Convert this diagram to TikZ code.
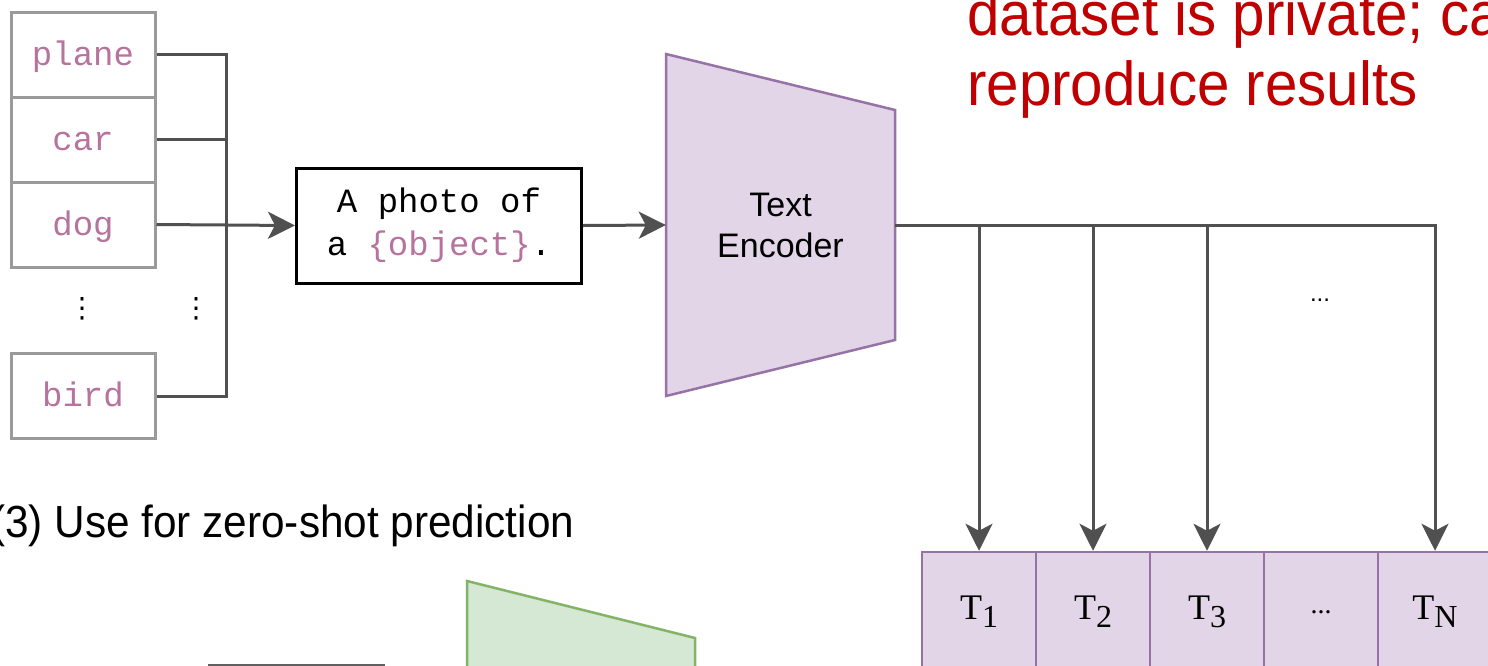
\documentclass[tikz,border=0pt]{standalone}
\usepackage{fontspec}
\setmainfont{Liberation Serif}
\newfontfamily\arialf{Liberation Sans}
\newfontfamily\narrowf[FakeStretch=0.94]{Liberation Sans}
\newfontfamily\monof{Liberation Mono}
\newfontfamily\dejaf{DejaVu Sans}
\usetikzlibrary{arrows.meta,calc}
\definecolor{conngray}{HTML}{505050}
\definecolor{wgray}{HTML}{9A9A9A}
\definecolor{wtext}{HTML}{B5739D}
\definecolor{pfill}{HTML}{E1D5E7}
\definecolor{pdraw}{HTML}{9673A6}
\definecolor{gfill}{HTML}{D5E8D4}
\definecolor{gdraw}{HTML}{82B366}
\definecolor{redtxt}{HTML}{C00000}
\definecolor{boxgray}{HTML}{606060}
\newcommand{\tlab}[1]{T\raisebox{-8pt}{\fontsize{32}{32}\selectfont #1}}
\tikzset{
  wbox/.style={draw=wgray, line width=3pt, minimum width=144pt, minimum height=85pt, inner sep=0pt,
    text=wtext, font=\monof\fontsize{34}{34}\selectfont, text height=21pt, text depth=0pt},
  conn/.style={draw=conngray, line width=3pt},
  arr/.style={-{Stealth[length=27pt,width=27pt,inset=7pt]}},
  tbox/.style={draw=pdraw, fill=pfill, line width=2.5pt, minimum width=114pt, minimum height=120pt,
    inner sep=0pt, font=\fontsize{36}{36}\selectfont},
  encshape/.style={draw=pdraw, fill=pfill, line width=2.5pt, line join=miter},
  greenshape/.style={draw=gdraw, fill=gfill, line width=2.5pt},
  redtext/.style={anchor=base west, inner sep=0pt, text=redtxt, font=\narrowf\fontsize{62}{62}\selectfont},
  vdotsnode/.style={inner sep=0pt, font=\dejaf\fontsize{28}{28}\selectfont},
}
\begin{document}
\begin{tikzpicture}[x=1pt,y=-1pt]
\useasboundingbox (0,0) rectangle (1488,665);
\clip (0,0) rectangle (1488,665);
\fill[white] (0,0) rectangle (1488,665);

% word boxes
\node[wbox] (plane) at (83,54.5) {plane};
\node[wbox] (car) at (83,139.5) {car};
\node[wbox] (dog) at (83,224.5) {dog};
\node[wbox] (bird) at (83,396) {bird};
\node[vdotsnode] (vd1) at (82,309) {⋮};
\node[vdotsnode] (vd2) at (196,309) {⋮};

% prompt
\node[draw=black, line width=3pt, minimum width=285pt, minimum height=115pt, inner sep=0pt,
  align=center, font=\monof\fontsize{34}{43}\selectfont] (prompt) at (439,225.5)
  {A photo of\\a \textcolor{wtext}{\{object\}}.};

% bus
\coordinate (bus) at (226,54);
\draw[conn] (plane.east) -- (plane.east -| bus) -- (bird.east -| bus) -- (bird.east);
\draw[conn] (car.east) -- (car.east -| bus);
\draw[conn, arr] (dog.east) -- (prompt.west);

% text encoder
\coordinate (e1) at (666,54);
\coordinate (e2) at (895,110);
\coordinate (e3) at (895,340);
\coordinate (e4) at (666,396);
\filldraw[encshape] (e1) -- (e2) -- (e3) -- (e4) -- cycle;
\node[minimum width=229pt, minimum height=342pt, inner sep=0pt, align=center,
  font=\arialf\fontsize{34}{41}\selectfont] (enc) at (780.5,225) {Text\\Encoder};
\draw[conn, arr] (prompt.east) -- (enc.west);

% T boxes
\node[tbox] (t1) at (979,612) {\tlab{1}};
\node[tbox] (t2) at (1093,612) {\tlab{2}};
\node[tbox] (t3) at (1207,612) {\tlab{3}};
\node[tbox] (t4) at (1321,612) {\fontsize{28}{28}\selectfont ...};
\node[tbox] (t5) at (1435,612) {\tlab{N}};

\draw[conn, arr] (enc.east) -| (t5.north);
\draw[conn, arr] (enc.east -| t1.north) -- (t1.north);
\draw[conn, arr] (enc.east -| t2.north) -- (t2.north);
\draw[conn, arr] (enc.east -| t3.north) -- (t3.north);
\node[inner sep=0pt, font=\arialf\fontsize{24}{24}\selectfont] (hdots) at (1320,300) {...};

% red note
\node[redtext] (red1) at (967,35) {dataset is private; ca};
\node[redtext] (red2) at (967,105) {reproduce results};

% section 3
\node[anchor=base west, inner sep=0pt, font=\narrowf\fontsize{45}{45}\selectfont] (sec3) at (-9,537)
  {(3) Use for zero-shot prediction};
\filldraw[greenshape] (467,581) -- (695,638) -- (695,760) -- (467,760) -- cycle;
\node[draw=boxgray, line width=2.5pt, minimum width=174pt, minimum height=80pt, anchor=north west,
  inner sep=0pt] (imgbox) at (208,664) {};
\end{tikzpicture}
\end{document}
